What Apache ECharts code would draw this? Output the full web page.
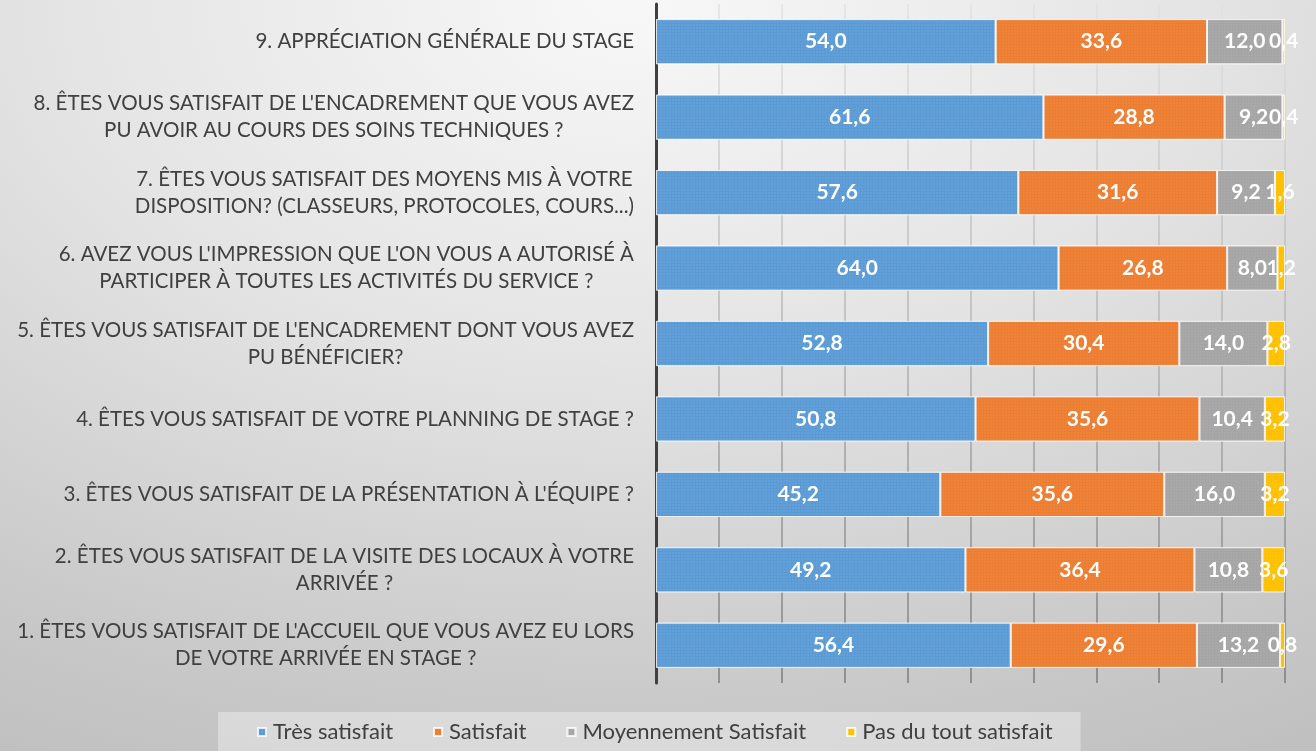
<!DOCTYPE html>
<html>
<head>
<meta charset="utf-8">
<script src="https://cdn.jsdelivr.net/npm/echarts@6/dist/echarts.min.js"></script>
<style>
  html, body { margin: 0; padding: 0; }
  #main {
    width: 1316px; height: 751px;
    background: radial-gradient(ellipse 110% 120% at 48% 0%, #f8f8f8 0%, #e4e4e4 40%, #c8c8c8 80%, #bdbdbd 100%);
  }
</style>
</head>
<body>
<div id="main"></div>
<script>
// questions, from 1 (bottom) to 9 (top)
var questions = [
  "1. ÊTES VOUS SATISFAIT DE L'ACCUEIL QUE VOUS AVEZ EU LORS\nDE VOTRE ARRIVÉE EN STAGE ?",
  "2. ÊTES VOUS SATISFAIT DE LA VISITE DES LOCAUX À VOTRE\nARRIVÉE ?",
  "3. ÊTES VOUS SATISFAIT DE LA PRÉSENTATION À L'ÉQUIPE ?",
  "4. ÊTES VOUS SATISFAIT DE VOTRE PLANNING DE STAGE ?",
  "5. ÊTES VOUS SATISFAIT DE L'ENCADREMENT DONT VOUS AVEZ\nPU BÉNÉFICIER?",
  "6. AVEZ VOUS L'IMPRESSION QUE L'ON VOUS A AUTORISÉ À\nPARTICIPER À TOUTES LES ACTIVITÉS DU SERVICE ?",
  "7. ÊTES VOUS SATISFAIT DES MOYENS MIS À VOTRE\nDISPOSITION? (CLASSEURS, PROTOCOLES, COURS...)",
  "8. ÊTES VOUS SATISFAIT DE L'ENCADREMENT QUE VOUS AVEZ\nPU AVOIR AU COURS DES SOINS TECHNIQUES ?",
  "9. APPRÉCIATION GÉNÉRALE DU STAGE"
];

var tresSatisfait = [56.4, 49.2, 45.2, 50.8, 52.8, 64.0, 57.6, 61.6, 54.0];
var satisfait     = [29.6, 36.4, 35.6, 35.6, 30.4, 26.8, 31.6, 28.8, 33.6];
var moyennement   = [13.2, 10.8, 16.0, 10.4, 14.0, 8.0, 9.2, 9.2, 12.0];
var pasDuTout     = [0.8, 3.6, 3.2, 3.2, 2.8, 1.2, 1.6, 0.4, 0.4];

var seriesNames = ['Très satisfait', 'Satisfait', 'Moyennement Satisfait', 'Pas du tout satisfait'];
var couleurs = ['#5b9bd5', '#ed7d31', '#a5a5a5', '#ffc000'];

var police = 'Lato, "Open Sans", sans-serif';

var myChart = echarts.init(document.getElementById('main'));

function serie(nom, data, couleur) {
  return {
    name: nom,
    type: 'bar',
    stack: 'total',
    barCategoryGap: '40%',
    data: data,
    itemStyle: {
      color: couleur,
      borderColor: 'rgba(255,255,255,0.55)',
      borderWidth: 1,
      decal: {
        symbol: 'rect',
        symbolSize: 0.6,
        dashArrayX: [2, 1],
        dashArrayY: [2, 1],
        color: 'rgba(255,255,255,0.18)'
      }
    },
    label: {
      show: true,
      position: 'inside',
      color: '#fff',
      fontFamily: police,
      fontWeight: 'bold',
      fontSize: 21,
      formatter: function (p) { return p.value.toFixed(1).replace('.', ','); }
    }
  };
}

var option = {
  backgroundColor: 'transparent',
  animation: false,
  grid: { left: 656, right: 31, top: 4, bottom: 68, containLabel: false },
  legend: {
    data: seriesNames,
    left: 218,
    top: 712,
    padding: [9, 28, 20, 39],
    itemWidth: 8,
    itemHeight: 8,
    itemGap: 40,
    icon: 'rect',
    backgroundColor: 'rgba(255,255,255,0.35)',
    textStyle: { fontFamily: police, fontSize: 22, color: '#404040', padding: [0, 0, 0, 2] }
  },
  xAxis: {
    type: 'value',
    min: 0,
    max: 100,
    interval: 10,
    axisLine: { show: false },
    axisTick: { show: false },
    axisLabel: { show: false },
    splitLine: {
      show: true,
      lineStyle: {
        width: 1.5,
        color: new echarts.graphic.LinearGradient(0, 0, 0, 683, [
          { offset: 0, color: '#e2e2e2' },
          { offset: 0.5, color: '#b4b4b4' },
          { offset: 1, color: '#7c7c7c' }
        ], true)
      }
    }
  },
  yAxis: {
    type: 'category',
    data: questions,
    axisLine: { show: true, lineStyle: { color: '#404040', width: 3 } },
    axisTick: { show: false },
    axisLabel: {
      margin: 22,
      color: '#404040',
      fontFamily: police,
      fontSize: 20.5,
      lineHeight: 27,
      formatter: function (v) {
        return v.split('\n').map(function (l) { return '{c|' + l + '}'; }).join('\n');
      },
      rich: {
        c: { align: 'center', color: '#404040', fontFamily: police, fontSize: 20.5, lineHeight: 27 }
      }
    }
  },
  series: [
    serie(seriesNames[0], tresSatisfait, couleurs[0]),
    serie(seriesNames[1], satisfait, couleurs[1]),
    serie(seriesNames[2], moyennement, couleurs[2]),
    serie(seriesNames[3], pasDuTout, couleurs[3])
  ]
};

myChart.setOption(option);
</script>
</body>
</html>
